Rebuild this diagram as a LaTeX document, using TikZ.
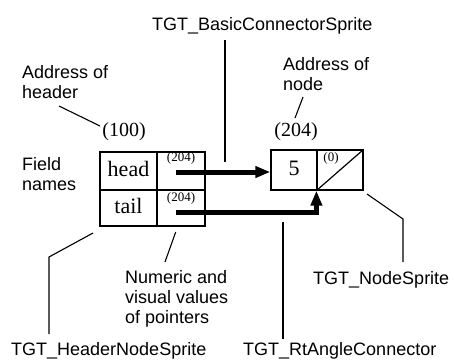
\documentclass[tikz,border=0pt]{standalone}
\usepackage{fontspec}
\setmainfont{Liberation Serif}
\setsansfont{Liberation Sans}
\usetikzlibrary{arrows.meta}

\begin{document}
\begin{tikzpicture}[
		x=1pt, y=-1pt,
		every node/.style={inner sep=0pt},
		cell/.style={draw, line width=1.2pt, text height=13pt, text depth=3pt,
			font=\fontsize{22}{24}\selectfont},
		addr/.style={font=\fontsize{20}{22}\selectfont, anchor=base},
		small/.style={font=\fontsize{13}{14}\selectfont},
		note/.style={font=\sffamily\fontsize{18}{20}\selectfont, align=left, anchor=base west},
		lead/.style={line width=1.1pt},
		ptr/.style={line width=5pt, -{Triangle[length=15pt,width=11pt]}}
	]
  \fill[white] (0,0) rectangle (454,360);
  \useasboundingbox (0,0) rectangle (454,360);

  % header node
  \node (hdname) [cell, minimum width=57pt, minimum height=38pt] at (128.5,171) {head};
  \node (hdval) [cell, minimum width=48pt, minimum height=38pt] at (181,171) {};
  \node (tlname) [cell, minimum width=57pt, minimum height=36pt] at (128.5,208) {tail};
  \node (tlval) [cell, minimum width=48pt, minimum height=36pt] at (181,208) {};
  \node (hdptr) [small] at (181,158) {(204)};
  \node (tlptr) [small] at (181,198.5) {(204)};
  \node (hdaddr) [addr] at (124,136) {(100)};

  % list node
  \node (nval) [cell, minimum width=46pt, minimum height=40pt] at (294,170) {5};
  \node (nptr) [cell, minimum width=46pt, minimum height=40pt] at (340,170) {};
  \node (nnext) [small] at (331,158) {(0)};
  \node (naddr) [addr] at (296,136) {(204)};
  \draw [line width=1.2pt] (nptr.south west) -- (nptr.north east);

  % pointers
  \coordinate (hp) at (176,172);
  \coordinate (tp) at (176,212);
  \draw [ptr] (hp) -- (hp -| nval.west);
  \draw [ptr] (tp) -| (nptr.south west);

  % notes (base = last line)
  \node (bcs) [note] at (152,30) {TGT\_BasicConnectorSprite};
  \node (adhd) [note] at (22,98) {Address of\\header};
  \node (adnd) [note] at (283,90) {Address of\\node};
  \node (fld) [note] at (22,190) {Field\\names};
  \node (num) [note] at (125,323) {Numeric and\\visual values\\of pointers};
  \node (nds) [note] at (313,284) {TGT\_NodeSprite};
  \node (hns) [note] at (11,355) {TGT\_HeaderNodeSprite};
  \node (rac) [note] at (243,355) {TGT\_RtAngleConnector};

  % leaders
  \coordinate (b0) at (225,40);   \coordinate (b1) at (225,162);
  \coordinate (a0) at (59,106);   \coordinate (a1) at (100,126);
  \coordinate (c0) at (303,97);   \coordinate (c1) at (295,118);
  \coordinate (h0) at (93,233);   \coordinate (h1) at (49,257);   \coordinate (h2) at (49,334);
  \coordinate (v0) at (175.7,232); \coordinate (v1) at (165,262);
  \coordinate (r0) at (283,222);  \coordinate (r1) at (283,339);
  \coordinate (s0) at (367,194);  \coordinate (s1) at (403,219);  \coordinate (s2) at (403,262);
  \draw [lead] (b0) edge (b1);
  \draw [lead] (a0) edge (a1);
  \draw [lead] (c0) edge (c1);
  \draw [lead] (h0) -- (h1) -- (h2);
  \draw [lead] (v0) edge (v1);
  \draw [lead] (r0) edge (r1);
  \draw [lead] (s0) -- (s1) -- (s2);
\end{tikzpicture}
\end{document}
